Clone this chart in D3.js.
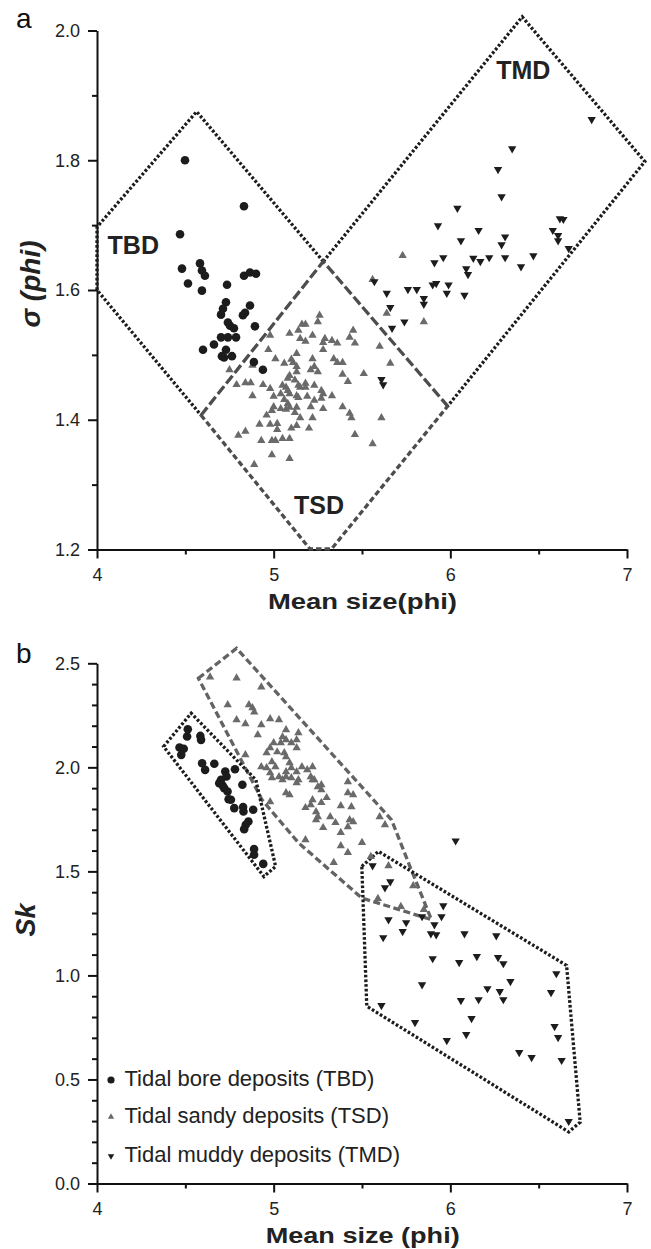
<!DOCTYPE html>
<html>
<head>
<meta charset="utf-8">
<script src="https://cdn.jsdelivr.net/npm/d3@7"></script>
<style>
  body { margin: 0; background: #fff; }
  text { font-family: "Liberation Sans", Arial, sans-serif; }
</style>
</head>
<body>
<svg id="chart"></svg>
<script>
// ---- tick values ----
var xTicks = [4, 5, 6, 7];
var xMinor = [4.5, 5.5, 6.5];
var yTicksA = [1.2, 1.4, 1.6, 1.8, 2.0];
var yMinorA = [1.3, 1.5, 1.7, 1.9];
var yTicksB = [0.0, 0.5, 1.0, 1.5, 2.0, 2.5];
var yMinorB = [0.1, 0.2, 0.3, 0.4, 0.6, 0.7, 0.8, 0.9, 1.1, 1.2, 1.3, 1.4,
               1.6, 1.7, 1.8, 1.9, 2.1, 2.2, 2.3, 2.4];

var legendLabels = ['Tidal bore deposits (TBD)', 'Tidal sandy deposits (TSD)', 'Tidal muddy deposits (TMD)'];

// ---- panel a : mean size vs sorting (sigma) ----
var tbdA = [[4.498,1.800],[4.832,1.729],[4.470,1.686],[4.481,1.633],[4.583,1.641],[4.594,1.630],
  [4.611,1.622],[4.515,1.610],[4.594,1.599],[4.736,1.608],[4.832,1.622],[4.866,1.627],[4.900,1.625],
  [4.730,1.581],[4.713,1.571],[4.702,1.562],[4.866,1.576],[4.838,1.565],[4.826,1.561],[4.741,1.550],
  [4.753,1.545],[4.775,1.541],[4.894,1.544],[4.702,1.527],[4.741,1.527],[4.787,1.527],[4.662,1.516],
  [4.600,1.508],[4.730,1.508],[4.707,1.498],[4.719,1.496],[4.764,1.498],[4.888,1.489],[4.939,1.477]];

var tsdA = [[5.26,1.561],[5.25,1.551],[5.16,1.547],[5.18,1.547],[5.14,1.538],[5.09,1.533],[4.98,1.530],
  [5.22,1.530],[5.45,1.538],[5.43,1.527],[5.46,1.518],[5.15,1.525],[5.18,1.521],[5.29,1.525],[5.28,1.519],
  [5.33,1.522],[5.36,1.518],[5.28,1.508],[4.97,1.508],[5.60,1.513],[5.13,1.502],[5.01,1.494],[5.10,1.493],
  [5.11,1.488],[5.22,1.494],[5.34,1.494],[5.36,1.488],[5.39,1.488],[5.06,1.487],[5.66,1.487],[4.88,1.484],
  [4.75,1.477],[5.13,1.482],[5.13,1.474],[5.21,1.477],[5.23,1.482],[5.25,1.474],[5.39,1.470],[5.51,1.471],
  [5.09,1.468],[5.08,1.464],[5.12,1.461],[5.42,1.459],[4.79,1.454],[4.84,1.457],[4.87,1.457],[4.94,1.454],
  [4.98,1.448],[5.05,1.453],[5.07,1.450],[5.08,1.445],[5.14,1.453],[5.15,1.450],[5.18,1.456],[5.18,1.450],
  [5.23,1.453],[5.27,1.445],[5.28,1.440],[5.33,1.437],[4.88,1.437],[5.00,1.436],[5.04,1.440],[5.09,1.440],
  [5.13,1.437],[5.14,1.434],[5.19,1.436],[5.06,1.431],[5.08,1.425],[5.23,1.430],[5.27,1.433],[5.00,1.420],
  [4.99,1.414],[5.04,1.417],[5.07,1.416],[5.09,1.419],[5.13,1.419],[5.12,1.411],[5.21,1.420],[5.28,1.417],
  [5.39,1.420],[5.43,1.410],[5.44,1.403],[4.96,1.407],[5.15,1.403],[5.22,1.403],[5.61,1.403],[4.92,1.393],
  [4.98,1.393],[5.02,1.394],[5.02,1.385],[5.10,1.387],[5.13,1.391],[5.20,1.387],[4.80,1.376],[4.84,1.382],
  [5.46,1.377],[4.93,1.368],[4.99,1.368],[5.01,1.368],[5.05,1.371],[5.09,1.371],[5.56,1.363],[4.99,1.346],
  [5.09,1.340],[4.89,1.331],[5.64,1.564],[5.85,1.551],[5.73,1.653],[5.56,1.616]];

var tmdA = [[6.80,1.863],[6.35,1.818],[6.27,1.786],[6.29,1.744],[6.04,1.726],[5.93,1.699],[6.16,1.692],
  [6.06,1.676],[6.31,1.682],[6.29,1.670],[6.62,1.710],[6.64,1.709],[6.58,1.692],[6.61,1.684],[6.61,1.676],
  [6.67,1.664],[5.96,1.650],[5.91,1.642],[6.13,1.649],[6.17,1.644],[6.22,1.650],[6.31,1.650],[6.47,1.653],
  [6.40,1.636],[6.09,1.633],[6.10,1.624],[5.57,1.613],[5.64,1.595],[5.76,1.601],[5.81,1.601],[5.85,1.587],
  [5.85,1.578],[5.90,1.608],[5.92,1.610],[5.99,1.608],[5.98,1.595],[6.08,1.592],[5.66,1.573],[5.74,1.551],
  [5.67,1.541],[5.61,1.462],[5.62,1.454]];

// field boundaries, panel a
var tbdEdgeA = [[5.281,1.644],[4.564,1.875],[4.0,1.697],[4.0,1.600],[4.589,1.407]];
var tmdEdgeA = [[5.281,1.644],[6.407,2.021],[7.101,1.798],[5.985,1.421]];
var tsdTopA = [[4.589,1.407],[5.281,1.644],[5.985,1.421]];
var tsdBottomA = [[4.589,1.407],[5.205,1.201],[5.328,1.201],[5.985,1.421]];

// ---- panel b : mean size vs skewness ----
var tbdB = [[4.514,2.183],[4.510,2.148],[4.585,2.151],[4.589,2.132],[4.467,2.095],[4.491,2.089],
  [4.477,2.060],[4.595,2.020],[4.612,1.988],[4.664,2.017],[4.726,1.980],[4.733,1.956],[4.781,1.991],
  [4.702,1.940],[4.692,1.924],[4.711,1.913],[4.720,1.900],[4.739,1.884],[4.823,1.916],[4.745,1.847],
  [4.758,1.844],[4.777,1.804],[4.827,1.809],[4.829,1.788],[4.884,1.796],[4.857,1.740],[4.842,1.724],
  [4.833,1.703],[4.889,1.607],[4.889,1.580],[4.941,1.536]];

var tsdB = [[4.64,2.434],[4.79,2.429],[4.93,2.386],[4.74,2.300],[4.86,2.300],[4.88,2.286],[4.89,2.266],
  [4.79,2.228],[4.84,2.209],[4.93,2.204],[4.98,2.233],[5.03,2.228],[4.91,2.156],[5.07,2.180],[5.05,2.146],
  [5.07,2.132],[5.04,2.118],[5.14,2.166],[5.13,2.132],[5.10,2.118],[5.13,2.094],[5.00,2.118],[4.98,2.094],
  [4.96,2.070],[5.02,2.074],[5.06,2.070],[5.07,2.050],[4.84,2.060],[4.93,2.002],[4.96,1.998],[4.99,2.026],
  [5.01,2.002],[5.09,2.022],[5.10,1.998],[5.13,1.978],[5.07,1.978],[5.16,2.002],[5.19,1.988],[5.22,2.002],
  [5.03,1.954],[5.05,1.940],[5.07,1.954],[5.10,1.950],[5.13,1.926],[5.14,1.940],[5.21,1.954],[5.23,1.940],
  [4.98,1.974],[4.99,1.950],[5.07,1.878],[5.09,1.868],[5.27,1.916],[5.27,1.892],[5.22,1.844],[5.21,1.820],
  [4.98,1.834],[5.27,1.830],[5.30,1.854],[5.24,1.786],[5.25,1.762],[5.28,1.710],[5.18,1.652],[5.42,1.930],
  [5.42,1.878],[5.45,1.868],[5.18,1.806],[5.38,1.815],[5.44,1.810],[5.32,1.762],[5.35,1.734],[5.24,1.748],
  [5.43,1.748],[5.45,1.738],[5.42,1.714],[5.38,1.686],[5.60,1.762],[5.63,1.724],[5.38,1.623],[5.42,1.590],
  [5.50,1.638],[5.34,1.542],[5.55,1.571],[5.65,1.527],[5.79,1.431],[5.59,1.369],[5.72,1.331],[5.85,1.316],
  [5.25,1.906],[5.22,1.940]];

var tmdB = [[6.03,1.647],[5.56,1.527],[5.66,1.451],[5.63,1.422],[5.96,1.335],[5.95,1.283],[5.84,1.283],
  [5.65,1.268],[5.75,1.254],[5.91,1.244],[5.73,1.211],[5.89,1.201],[5.92,1.196],[6.08,1.201],[6.26,1.191],
  [5.62,1.182],[5.90,1.081],[6.05,1.062],[6.15,1.091],[6.27,1.086],[6.30,1.057],[6.60,1.009],[6.34,0.971],
  [5.84,0.956],[6.21,0.937],[6.28,0.923],[6.30,0.884],[6.16,0.884],[6.06,0.880],[6.57,0.918],[5.61,0.856],
  [6.12,0.793],[5.80,0.774],[6.59,0.755],[6.61,0.702],[6.09,0.716],[5.98,0.688],[6.39,0.630],[6.46,0.606],
  [6.63,0.592],[6.67,0.299]];

// field boundaries, panel b (closed)
var tbdZoneB = [[4.377,2.100],[4.533,2.260],[4.899,1.940],[5.011,1.524],[4.945,1.475]];
var tsdZoneB = [[4.574,2.428],[4.790,2.572],[5.667,1.748],[5.771,1.524],[5.893,1.268],
  [5.499,1.372],[5.142,1.636],[4.934,1.844]];
var tmdZoneB = [[5.499,1.524],[5.593,1.596],[6.658,1.048],[6.735,0.294],[6.670,0.248],[5.527,0.852]];

// ---- drawing ----
var svg = d3.select('#chart').attr('width', 651).attr('height', 1249);

var x = d3.scaleLinear().domain([4, 7]).range([97, 627]);
var yA = d3.scaleLinear().domain([1.2, 2.0]).range([549.5, 30.5]);
var yB = d3.scaleLinear().domain([0, 2.5]).range([1183.5, 663.3]);

var black = '#1c1c1c';
var grey = '#6a6a6a';

function axes(y, yTicks, yMinor) {
    var base = y.range()[0];

    var gx = svg.append('g').attr('transform', 'translate(0,' + base + ')')
        .call(d3.axisBottom(x).tickValues(xTicks).tickFormat(d3.format('d'))
            .tickSize(9).tickSizeOuter(0).tickPadding(10));
    svg.append('g').attr('transform', 'translate(0,' + base + ')')
        .call(d3.axisBottom(x).tickValues(xMinor).tickFormat('').tickSize(5).tickSizeOuter(0))
        .select('.domain').remove();

    var gy = svg.append('g').attr('transform', 'translate(97,0)')
        .call(d3.axisLeft(y).tickValues(yTicks).tickFormat(d3.format('.1f'))
            .tickSize(9).tickSizeOuter(0).tickPadding(8));
    svg.append('g').attr('transform', 'translate(97,0)')
        .call(d3.axisLeft(y).tickValues(yMinor).tickFormat('').tickSize(5).tickSizeOuter(0))
        .select('.domain').remove();

    svg.selectAll('.domain').attr('stroke', '#111').attr('stroke-width', 2);
    svg.selectAll('.tick line').attr('stroke', '#111').attr('stroke-width', 2);
    [gx, gy].forEach(function(g) {
        g.selectAll('text').attr('font-family', '"Liberation Sans", Arial, sans-serif')
            .attr('font-size', 18).attr('fill', '#222');
    });
}

axes(yA, yTicksA, yMinorA);
axes(yB, yTicksB, yMinorB);

function boundary(pts, y, dash, color, width, closed) {
    var line = d3.line().x(function(d) { return x(d[0]); }).y(function(d) { return y(d[1]); });
    svg.append('path')
        .attr('d', line(pts) + (closed ? 'Z' : ''))
        .attr('fill', 'none')
        .attr('stroke', color)
        .attr('stroke-width', width)
        .attr('stroke-dasharray', dash);
}

var dotted = '2.7 2';

boundary(tbdEdgeA, yA, dotted, black, 3.3, false);
boundary(tmdEdgeA, yA, dotted, black, 3.3, false);
boundary(tsdTopA, yA, '10 3.5', '#4d4d4d', 3.3, false);
boundary(tsdBottomA, yA, '5.5 3', '#4d4d4d', 3.3, false);

boundary(tsdZoneB, yB, '7 3.5', '#636363', 3.3, true);
boundary(tbdZoneB, yB, dotted, black, 3.3, true);
boundary(tmdZoneB, yB, dotted, black, 3.3, true);

var up = d3.symbol(d3.symbolTriangle, 30);

function ups(data, y) {
    svg.append('g').selectAll('path').data(data).join('path')
        .attr('d', up)
        .attr('transform', function(d) { return 'translate(' + x(d[0]) + ',' + y(d[1]) + ')'; })
        .attr('fill', grey);
}
function downs(data, y) {
    svg.append('g').selectAll('path').data(data).join('path')
        .attr('d', up)
        .attr('transform', function(d) { return 'translate(' + x(d[0]) + ',' + y(d[1]) + ') rotate(180)'; })
        .attr('fill', black);
}
function dots(data, y) {
    svg.append('g').selectAll('circle').data(data).join('circle')
        .attr('cx', function(d) { return x(d[0]); })
        .attr('cy', function(d) { return y(d[1]); })
        .attr('r', 4.3)
        .attr('fill', black);
}

ups(tsdA, yA);
dots(tbdA, yA);
downs(tmdA, yA);

ups(tsdB, yB);
dots(tbdB, yB);
downs(tmdB, yB);

// field names, panel a
[['TBD', 4.06, 1.655], ['TMD', 6.26, 1.925], ['TSD', 5.115, 1.255]].forEach(function(l) {
    svg.append('text').attr('x', x(l[1])).attr('y', yA(l[2]))
        .attr('font-size', 25).attr('font-weight', 'bold').attr('fill', '#222')
        .text(l[0]);
});

// axis titles
svg.append('text').attr('x', 362.5).attr('y', 608.5).attr('text-anchor', 'middle')
    .attr('font-size', 22).attr('font-weight', 'bold').attr('fill', '#222')
    .attr('textLength', 189).attr('lengthAdjust', 'spacingAndGlyphs')
    .text('Mean size(phi)');
svg.append('text').attr('x', 362.7).attr('y', 1243).attr('text-anchor', 'middle')
    .attr('font-size', 22).attr('font-weight', 'bold').attr('fill', '#222')
    .attr('textLength', 194).attr('lengthAdjust', 'spacingAndGlyphs')
    .text('Mean size (phi)');

svg.append('text').attr('transform', 'translate(40,284) rotate(-90)').attr('text-anchor', 'middle')
    .attr('font-size', 28).attr('font-weight', 'bold').attr('font-style', 'italic').attr('fill', '#222')
    .text('σ (phi)');
svg.append('text').attr('transform', 'translate(35,920) rotate(-90)').attr('text-anchor', 'middle')
    .attr('font-size', 27).attr('font-weight', 'bold').attr('font-style', 'italic').attr('fill', '#222')
    .text('Sk');

// panel letters
svg.append('text').attr('x', 16).attr('y', 28).attr('font-size', 28).attr('fill', '#111').text('a');
svg.append('text').attr('x', 16).attr('y', 663).attr('font-size', 28).attr('fill', '#111').text('b');

// legend, panel b
var legY = [1080, 1117, 1156];
var small = d3.symbol(d3.symbolTriangle, 18);
svg.append('circle').attr('cx', 111).attr('cy', legY[0]).attr('r', 3.6).attr('fill', black);
svg.append('path').attr('d', small).attr('transform', 'translate(111,' + legY[1] + ')').attr('fill', grey);
svg.append('path').attr('d', small).attr('transform', 'translate(111,' + legY[2] + ') rotate(180)').attr('fill', black);
svg.append('g').selectAll('text').data(legendLabels).join('text')
    .attr('x', 124.5)
    .attr('y', function(d, i) { return legY[i] + 6; })
    .attr('font-size', 22).attr('fill', '#222')
    .text(function(d) { return d; });
</script>
</body>
</html>
